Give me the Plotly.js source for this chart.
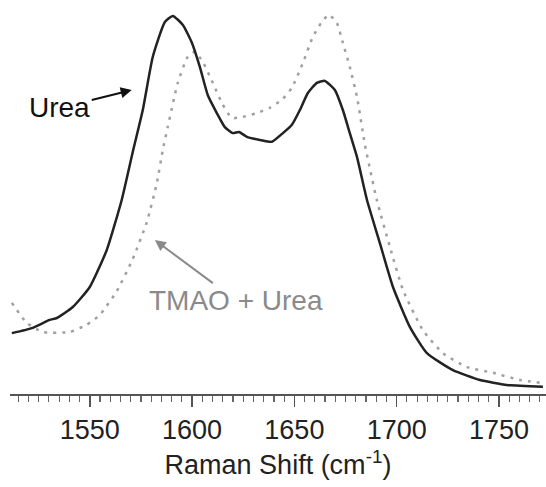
<!DOCTYPE html>
<html>
<head>
<meta charset="utf-8">
<script src="https://cdn.plot.ly/plotly-3.0.1.min.js"></script>
<style>html,body{margin:0;padding:0;background:#fff;}#chart{width:546px;height:487px;}</style>
</head>
<body>
<div id="chart"></div>
<script>
// Raman shift (cm^-1) and relative intensity (arbitrary units)
const ureaShift = [1511.9,1522.1,1530.4,1533.9,1541.7,1550.0,1558.3,1565.6,1571.0,1575.9,1580.8,1586.7,1590.6,1595.5,1599.9,1603.8,1607.7,1612.1,1616.0,1619.9,1623.0,1626.8,1633.1,1639.0,1644.4,1648.8,1652.7,1656.6,1661.0,1664.9,1669.8,1673.7,1677.1,1680.6,1685.5,1691.8,1698.2,1706.5,1714.8,1727.5,1740.7,1753.9,1771.5];
const ureaIntensity = [16.1,17.5,19.6,20.1,23.0,28.3,38.1,51.3,64.0,75.1,89.2,98.4,100.0,97.6,92.9,86.5,79.0,74.3,70.6,69.0,69.3,68.0,67.2,66.7,69.0,71.2,75.1,79.6,82.3,82.8,80.4,75.1,69.0,62.7,51.3,39.9,28.3,17.7,10.8,6.3,3.7,2.4,1.9];

const tmaoShift = [1511.9,1519.2,1527.0,1540.2,1548.5,1554.9,1563.2,1571.0,1577.9,1582.8,1585.7,1588.1,1593.0,1597.9,1601.3,1605.3,1610.1,1615.0,1619.4,1624.8,1631.7,1638.0,1643.9,1648.8,1654.2,1659.0,1663.4,1666.9,1670.8,1673.7,1677.1,1680.6,1684.5,1690.3,1696.7,1703.1,1712.8,1722.6,1734.4,1747.1,1760.3,1771.5];
const tmaoIntensity = [24.1,18.8,16.4,16.4,18.3,20.9,27.2,35.7,45.5,55.8,64.6,70.6,82.3,89.2,90.5,87.8,82.3,76.5,73.0,73.3,74.3,75.7,77.8,81.0,87.6,94.4,98.4,100.3,98.1,92.9,86.5,78.6,65.9,51.3,38.9,27.5,16.9,10.8,7.1,5.6,3.7,2.9];

const tickVals = [1550,1600,1650,1700,1750];
const tickText = ["1550","1600","1650","1700","1750"];

const FONT = "Liberation Sans, Arial, sans-serif";

const traces = [
  {x: tmaoShift, y: tmaoIntensity, type: 'scatter', mode: 'lines', name: 'TMAO + Urea',
   line: {color: '#a0a0a0', width: 2.5, dash: '3px,6px', shape: 'spline', smoothing: 0.5}},
  {x: ureaShift, y: ureaIntensity, type: 'scatter', mode: 'lines', name: 'Urea',
   line: {color: '#222222', width: 2.5, shape: 'spline', smoothing: 0.5}}
];

const layout = {
  width: 546, height: 487,
  margin: {l: 10, r: 0, t: 0, b: 93},
  paper_bgcolor: '#fff', plot_bgcolor: '#fff',
  showlegend: false,
  font: {family: FONT, size: 27, color: '#222'},
  xaxis: {
    range: [1511, 1773],
    tickvals: tickVals, ticktext: tickText,
    ticks: 'outside', ticklen: 11, tickwidth: 1.5, tickcolor: '#555',
    showline: true, linecolor: '#555', linewidth: 1.5,
    showgrid: false, zeroline: false,
    tickfont: {family: FONT, size: 27, color: '#222'},
    minor: {dtick: 5, tick0: 1550, ticks: 'outside', ticklen: 6, tickwidth: 1.2, tickcolor: '#666', showgrid: false},
    title: {text: 'Raman Shift (cm<sup>-1</sup>)', font: {family: FONT, size: 27, color: '#222'}, standoff: 11}
  },
  yaxis: {
    range: [0, 104.2], visible: false, showgrid: false, zeroline: false
  },
  annotations: [
    {x: 1570.5, y: 80.4, xref: 'x', yref: 'y', ax: -72, ay: 18, text: 'Urea',
     font: {family: FONT, size: 28, color: '#111'}, showarrow: true,
     arrowhead: 2, arrowsize: 1.1, arrowwidth: 2, arrowcolor: '#111', standoff: 0},
    {x: 1581.8, y: 40.7, xref: 'x', yref: 'y', ax: 81, ay: 60, text: 'TMAO + Urea',
     font: {family: FONT, size: 28, color: '#8a8a8a'}, showarrow: true,
     arrowhead: 2, arrowsize: 1.1, arrowwidth: 2, arrowcolor: '#8a8a8a', standoff: 0}
  ]
};

Plotly.newPlot('chart', traces, layout, {displayModeBar: false, staticPlot: true});
</script>
</body>
</html>
